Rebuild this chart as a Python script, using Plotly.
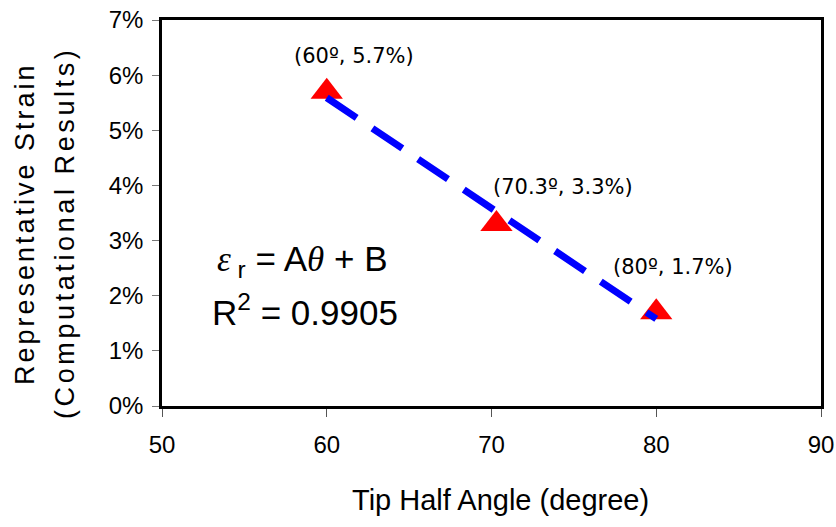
import plotly.graph_objects as go

# Data
angles = [60, 70.3, 80]            # tip half angle (degree)
strains = [5.7, 3.3, 1.7]          # representative strain (%)
point_labels = ["(60º, 5.7%)", "(70.3º, 3.3%)", "(80º, 1.7%)"]
trend_x = [60, 80]
trend_y = [5.59, 1.58]
x_ticks = [50, 60, 70, 80, 90]
y_ticks = [0, 1, 2, 3, 4, 5, 6, 7]
y_tick_text = [f"{v}%" for v in y_ticks]
x_title = "Tip Half Angle (degree)"
y_title_lines = ["Representative Strain", "(Computational Results)"]

AX_FONT = "Liberation Sans, Arial"

fig = go.Figure()

fig.add_trace(go.Scatter(
    x=angles, y=strains, mode="markers",
    marker=dict(symbol="triangle-up", size=28, color="#ff0000", line=dict(width=0)),
    showlegend=False, cliponaxis=False, hoverinfo="skip"))

fig.add_trace(go.Scatter(
    x=trend_x, y=trend_y, mode="lines",
    line=dict(color="#0000ff", width=7, dash="36px,19px"),
    showlegend=False, hoverinfo="skip"))

label_shifts = [(27, 36), (67, 37), (17, 45)]
for xv, yv, txt, (dx, dy) in zip(angles, strains, point_labels, label_shifts):
    fig.add_annotation(x=xv, y=yv, text=txt, showarrow=False, xshift=dx, yshift=dy,
                       font=dict(family="DejaVu Sans", size=21, color="black"))

fig.add_annotation(x=0.08, y=0.375, xref="paper", yref="paper", xanchor="left", yanchor="middle",
                   text="<span style='font-family:Liberation Serif'><i>ε</i></span><sub> r</sub> = A<span style='font-family:Liberation Serif'><i>θ</i></span> + B",
                   showarrow=False, font=dict(family=AX_FONT, size=35, color="black"))
fig.add_annotation(x=0.073, y=0.25, xref="paper", yref="paper", xanchor="left", yanchor="middle",
                   text="R<sup>2</sup> = 0.9905",
                   showarrow=False, font=dict(family=AX_FONT, size=35, color="black"))

# axis titles
fig.add_annotation(x=0.5, y=0, xref="paper", yref="paper", xanchor="center", yanchor="middle",
                   xshift=9, yshift=-94, text=x_title, showarrow=False,
                   font=dict(family=AX_FONT, size=29, color="black"))
for xs, ys, ls, line in zip([-137, -97], [-11, -20], [3.0, 3.6], y_title_lines):
    fig.add_annotation(x=0, y=0.5, xref="paper", yref="paper", xanchor="center", yanchor="middle",
                       xshift=xs, yshift=ys, textangle=-90,
                       text=f"<span style='letter-spacing:{ls}px'>{line}</span>", showarrow=False,
                       font=dict(family=AX_FONT, size=27, color="black"))

fig.update_xaxes(range=[50, 90], tickvals=x_ticks, ticks="outside", ticklen=8, tickcolor="#555555",
                 showline=True, linecolor="black", linewidth=2.5, mirror=True, showgrid=False, zeroline=False,
                 automargin=False, ticklabelstandoff=7,
                 tickfont=dict(family=AX_FONT, size=24, color="black"))
fig.update_yaxes(range=[0, 7], tickvals=y_ticks, ticktext=y_tick_text, ticks="outside", ticklen=7,
                 tickcolor="#777777", automargin=False, ticklabelstandoff=4,
                 showline=True, linecolor="black", linewidth=2.5, mirror=True, showgrid=False, zeroline=False,
                 tickfont=dict(family=AX_FONT, size=24, color="black"))

fig.update_layout(width=836, height=527, plot_bgcolor="white", paper_bgcolor="white",
                  margin=dict(l=162, r=15, t=20, b=121), hovermode=False)

fig.write_html("out.html", config={"displayModeBar": False},
               post_script="document.body.style.margin='0';")
